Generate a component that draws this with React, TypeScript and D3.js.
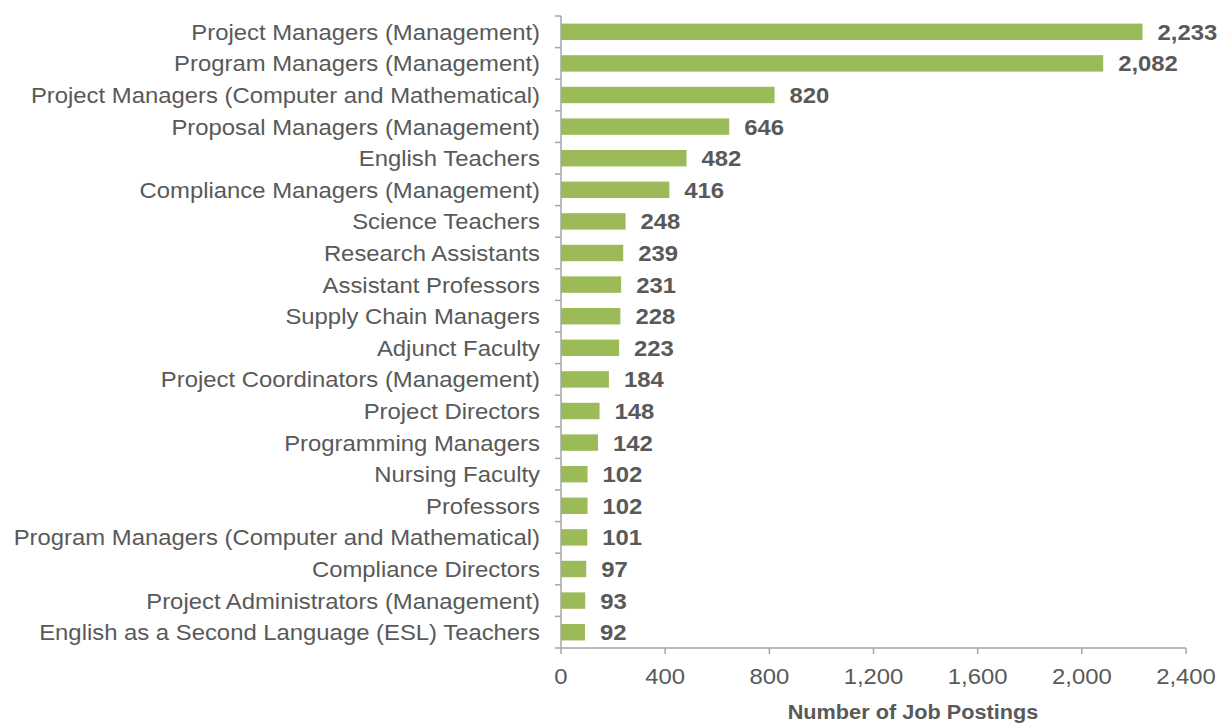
import React from "react";
import * as d3 from "d3";

const categories: string[] = [
  "Project Managers (Management)",
  "Program Managers (Management)",
  "Project Managers (Computer and Mathematical)",
  "Proposal Managers (Management)",
  "English Teachers",
  "Compliance Managers (Management)",
  "Science Teachers",
  "Research Assistants",
  "Assistant Professors",
  "Supply Chain Managers",
  "Adjunct Faculty",
  "Project Coordinators (Management)",
  "Project Directors",
  "Programming Managers",
  "Nursing Faculty",
  "Professors",
  "Program Managers (Computer and Mathematical)",
  "Compliance Directors",
  "Project Administrators (Management)",
  "English as a Second Language (ESL) Teachers",
];
const values: number[] = [2233, 2082, 820, 646, 482, 416, 248, 239, 231, 228, 223, 184, 148, 142, 102, 102, 101, 97, 93, 92];
const xTicks: number[] = [0, 400, 800, 1200, 1600, 2000, 2400];
const xTitle = "Number of Job Postings";

const SX = 1.085;

function T(props: { x: number; y: number; anchor?: string; bold?: boolean; size?: number; children: React.ReactNode }) {
  const { x, y, anchor = "start", bold = false, size = 22, children } = props;
  return (
    <text
      transform={`translate(${x},${y}) scale(${SX},1)`}
      textAnchor={anchor}
      fontSize={size}
      fontWeight={bold ? "bold" : "normal"}
      fill="#595959"
    >
      {children}
    </text>
  );
}

export default function App() {
  const W = 1220, H = 725;
  const left = 561, right = 1186, top = 16, bottom = 648;
  const x = d3.scaleLinear().domain([0, 2400]).range([left, right]);
  const y = d3.scaleBand<string>().domain(categories).range([top, bottom]).paddingInner(0.48).paddingOuter(0.24);
  const fmt = d3.format(",");
  const step = y.step();
  const axisColor = "#a6a6a6";
  const font = "'Liberation Sans', Arial, sans-serif";
  return (
    <svg width={W} height={H} style={{ position: "absolute", left: 0, top: 0 }} fontFamily={font}>
      {categories.map((c, i) => {
        const yy = y(c)!;
        const bh = y.bandwidth();
        const cy = yy + bh / 2 + 8;
        return (
          <g key={c}>
            <rect x={x(0)} y={yy} width={x(values[i]) - x(0)} height={bh} fill="#9bbb59" />
            <T x={x(values[i]) + 15} y={cy} bold>
              {fmt(values[i])}
            </T>
            <T x={left - 21} y={cy} anchor="end">
              {c}
            </T>
          </g>
        );
      })}
      <line x1={left} x2={left} y1={top} y2={bottom} stroke={axisColor} strokeWidth={1.5} />
      {d3.range(categories.length + 1).map((i) => (
        <line key={"yt" + i} x1={left - 6} x2={left} y1={top + i * step} y2={top + i * step} stroke={axisColor} strokeWidth={1.5} />
      ))}
      <line x1={left} x2={right} y1={bottom} y2={bottom} stroke={axisColor} strokeWidth={1.5} />
      {xTicks.map((t) => (
        <g key={"xt" + t}>
          <line x1={x(t)} x2={x(t)} y1={bottom} y2={bottom + 6} stroke={axisColor} strokeWidth={1.5} />
          <T x={x(t)} y={bottom + 36} anchor="middle">
            {fmt(t)}
          </T>
        </g>
      ))}
      <T x={913} y={719} anchor="middle" bold size={20}>
        {xTitle}
      </T>
    </svg>
  );
}
